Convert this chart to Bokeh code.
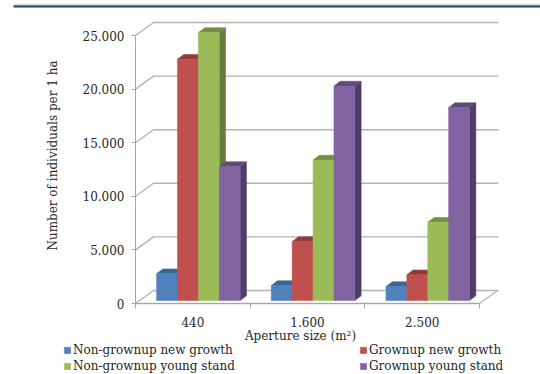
from bokeh.embed import file_html
from bokeh.resources import INLINE
from bokeh.plotting import figure
from bokeh.models import (BoxAnnotation, FixedTicker, Label, Legend, LegendItem,
                          LinearAxis, Range1d)

# Stem counts per hectare by aperture size
apertures = ["440", "1.600", "2.500"]
non_grownup_new = [2500, 1400, 1300]
grownup_new = [22500, 5500, 2400]
non_grownup_young = [25000, 13100, 7300]
grownup_young = [12500, 20000, 18000]

series_names = ["Non-grownup new growth", "Grownup new growth",
                "Non-grownup young stand", "Grownup young stand"]
series_values = [non_grownup_new, grownup_new, non_grownup_young, grownup_young]
front_colors = ["#4f81bd", "#c0504d", "#9bbb59", "#8064a2"]
top_colors = ["#3b6796", "#8f3b39", "#748c43", "#5f4a79"]
side_colors = ["#385d8a", "#7d3331", "#667c3a", "#4f3c68"]

y_ticks = [0, 5000, 10000, 15000, 20000, 25000]
y_labels = {0: "0", 5000: "5.000", 10000: "10.000", 15000: "15.000",
            20000: "20.000", 25000: "25.000"}

FONT = "DejaVu Serif"
TEXT = "#262626"
WALL = "#b4b4b4"
W, H = 540, 374

# The frame fills the page; this is the data scale and where the axes' origin sits on it
PX_X = 1 / 114.7
PX_Y = 25000 / 268
ORIGIN_X, ORIGIN_Y = 135, 303

wall_right = (498 - ORIGIN_X) * PX_X

p = figure(width=W, height=H, output_backend="svg", toolbar_location=None,
           x_range=Range1d(-ORIGIN_X * PX_X, (W - ORIGIN_X) * PX_X),
           y_range=Range1d(-(H - ORIGIN_Y) * PX_Y, ORIGIN_Y * PX_Y),
           min_border=0, x_axis_type=None, y_axis_type=None, outline_line_color=None,
           background_fill_color="white", border_fill_color="white")
p.grid.visible = False

# Back wall and floor of the box
wall_dx, wall_dy = 18 * PX_X, 13 * PX_Y
p.multi_line(
    xs=[[0, wall_dx, wall_right] for _ in y_ticks],
    ys=[[t, t + wall_dy, t + wall_dy] for t in y_ticks],
    line_color=WALL, line_width=1.4)
p.line([0, 3, 3 + wall_dx], [0, 0, wall_dy], line_color=WALL, line_width=1.4)

# Bars, each made of a side face, a top face and a front face
bar_w = 20.9 * PX_X
shift_x, base = 5.5 * PX_X, 3 * PX_Y
depth_x, depth_y = 6.3 * PX_X, 4.8 * PX_Y

handles = []
for s, values in enumerate(series_values):
    lefts = [g + 0.5 + shift_x + (s - 2) * bar_w for g in range(len(values))]
    rights = [l + bar_w for l in lefts]
    tops = [v + base for v in values]

    p.patches(
        xs=[[r, r + depth_x, r + depth_x, r] for r in rights],
        ys=[[base, base + depth_y, t + depth_y, t] for t in tops],
        fill_color=side_colors[s], line_color=side_colors[s], line_width=0.5)
    p.patches(
        xs=[[l, l + depth_x, r + depth_x, r] for l, r in zip(lefts, rights)],
        ys=[[t, t + depth_y, t + depth_y, t] for t in tops],
        fill_color=top_colors[s], line_color=top_colors[s], line_width=0.5)
    handles.append(p.vbar(
        x=[l + bar_w / 2 for l in lefts], width=bar_w, bottom=base, top=tops,
        fill_color=front_colors[s], line_color=front_colors[s], line_width=0.5))

# Axes sit inside the full-page frame at the data origin
y_axis = LinearAxis(ticker=FixedTicker(ticks=y_ticks), fixed_location=0,
                    major_label_overrides=y_labels, bounds=(0, 25000))
y_axis.axis_line_color = "#a6a6a6"
y_axis.major_tick_line_color = "#a6a6a6"
y_axis.major_tick_in = 0
y_axis.major_tick_out = 4
y_axis.minor_tick_line_color = None
y_axis.major_label_standoff = 7
y_axis.major_label_text_font = FONT
y_axis.major_label_text_font_size = "12px"
y_axis.major_label_text_color = TEXT
p.add_layout(y_axis, "left")

x_axis = LinearAxis(ticker=FixedTicker(ticks=[0.5, 1.5, 2.5], minor_ticks=[0, 1, 2, 3]),
                    fixed_location=0,
                    major_label_overrides={0.5: apertures[0], 1.5: apertures[1], 2.5: apertures[2]},
                    bounds=(0, 3))
x_axis.axis_line_color = "#a6a6a6"
x_axis.major_tick_line_color = None
x_axis.minor_tick_line_color = "#a6a6a6"
x_axis.minor_tick_in = 0
x_axis.minor_tick_out = 5
x_axis.major_label_standoff = 7
x_axis.major_label_text_font = FONT
x_axis.major_label_text_font_size = "12px"
x_axis.major_label_text_color = TEXT
p.add_layout(x_axis, "below")

# Axis titles
p.add_layout(Label(x=300, y=H - 335, x_units="screen", y_units="screen",
                   text="Aperture size (m²)", text_font=FONT, text_font_size="12px",
                   text_color=TEXT, text_align="center", text_baseline="middle"))
p.add_layout(Label(x=52, y=H - 155, x_units="screen", y_units="screen", angle=90,
                   angle_units="deg", text="Number of individuals per 1 ha",
                   text_font=FONT, text_font_size="12px", text_color=TEXT,
                   text_align="center", text_baseline="middle"))

# Two-column legend below the plot
def legend_column(indices, page_x):
    leg = Legend(items=[LegendItem(label=series_names[i], renderers=[handles[i]]) for i in indices],
                 location=(page_x, 1), orientation="vertical",
                 background_fill_alpha=0, border_line_color=None, padding=0, margin=0,
                 spacing=2, glyph_width=8, glyph_height=8, label_standoff=2,
                 label_text_font=FONT, label_text_font_size="12px",
                 label_text_color=TEXT, label_height=12)
    p.add_layout(leg, "center")

legend_column([0, 2], 63)
legend_column([1, 3], 359)

# Heading rule across the top of the page
p.add_layout(BoxAnnotation(left=13, right=W, top=H - 4, bottom=H - 5,
                           left_units="screen", right_units="screen",
                           top_units="screen", bottom_units="screen",
                           fill_color="#9fb0c4", fill_alpha=1, line_color=None))
p.add_layout(BoxAnnotation(left=13, right=W, top=H - 5, bottom=H - 7,
                           left_units="screen", right_units="screen",
                           top_units="screen", bottom_units="screen",
                           fill_color="#254061", fill_alpha=1, line_color=None))

open("out.html", "w").write(file_html(p, INLINE))
